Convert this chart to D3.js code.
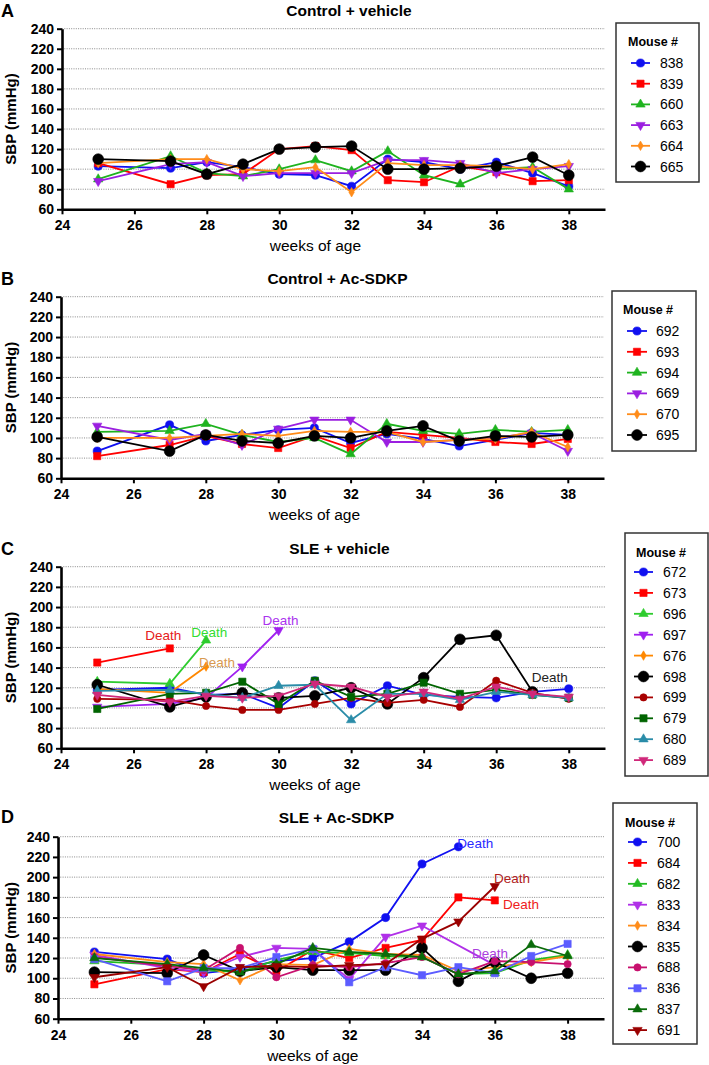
<!DOCTYPE html>
<html><head><meta charset="utf-8">
<script src="https://cdn.jsdelivr.net/npm/d3@7"></script>
<style>body{margin:0;background:#fff} text{font-family:"Liberation Sans",Arial,Helvetica,sans-serif}</style>
</head><body><svg id="c" width="709" height="1065"></svg>
<script>
// ---------- data ----------
const weeks = [25,27,28,29,30,31,32,33,34,35,36,37,38];
const yTicks = [60,80,100,120,140,160,180,200,220,240];
const xTicks = [24,26,28,30,32,34,36,38];
const gridTicks = [80,100,120,140,160,180,200,220,240];
const xDomain = [24,39];
const yDomain = [60,240];
const yLabel = "SBP (mmHg)";
const xLabel = "weeks of age";
const legendTitle = "Mouse #";

const titleA = "Control + vehicle";
const miceA = ["838","839","660","663","664","665"];
const colorsA = ["#1010f0","#ff0000","#1fb31f","#9b1fe0","#ff8c1a","#000000"];
const shapesA = ["circle","square","triangle","triangleDown","diamond","bigCircle"];
const valuesA = [
  [103,101,107,102,95,94,83,110,107,100,107,96,83],
  [106,85,94,95,120,123,119,89,87,103,97,88,89],
  [90,113,96,93,100,109,98,118,94,85,100,102,80],
  [88,105,107,93,96,96,96,109,109,106,96,100,103],
  [106,110,110,100,98,102,77,106,104,104,103,100,105],
  [110,108,95,105,120,122,123,100,100,101,103,112,94]
];

const titleB = "Control + Ac-SDKP";
const miceB = ["692","693","694","669","670","695"];
const colorsB = colorsA;
const shapesB = shapesA;
const valuesB = [
  [87,113,97,103,108,110,95,104,99,92,98,105,103],
  [82,93,102,94,90,102,90,106,103,100,96,94,99],
  [106,107,114,103,96,100,84,114,107,104,108,106,108],
  [112,98,104,93,109,118,118,96,96,98,100,105,87],
  [100,100,102,104,102,107,106,106,96,98,99,106,91],
  [101,87,103,97,95,102,100,107,112,97,102,101,103]
];

const titleC = "SLE + vehicle";
const miceC = ["672","673","696","697","676","698","699","679","680","689"];
const colorsC = ["#1010f0","#ff0000","#2ecc2e","#a020f0","#ff8800","#000000","#a80000","#006400","#2a8ca8","#d0287a"];
const shapesC = ["circle","square","triangle","triangleDown","diamond","bigCircle","smallCircle","square","triangle","triangleDown"];
const valuesC = [
  [118,120,113,114,100,127,104,122,113,111,110,116,119],
  [145,159],
  [126,124,167],
  [101,104,110,141,177],
  [119,115,141],
  [123,101,111,115,110,112,120,104,130,168,172,116],
  [109,108,102,98,98,104,110,105,108,101,127,115,109],
  [99,114,115,126,104,127,111,114,125,114,118,113,110],
  [117,118,114,110,122,123,88,114,114,108,116,113,110],
  [113,106,112,110,112,124,121,111,116,109,121,114,111]
];
const deathsC = [
  {text:"Death", color:"#e52020", week:26.82, value:172},
  {text:"Death", color:"#33dd33", week:28.09, value:175},
  {text:"Death", color:"#d89a50", week:28.3, value:145},
  {text:"Death", color:"#aa33ee", week:30.05, value:187},
  {text:"Death", color:"#222222", week:37.48, value:130}
];

const titleD = "SLE + Ac-SDKP";
const miceD = ["700","684","682","833","834","835","688","836","837","691"];
const colorsD = ["#1010f0","#ff0000","#22bb22","#b030e8","#ff8c1a","#000000","#c8106e","#5c5cff","#0a6b0a","#9a0000"];
const shapesD = ["circle","square","triangle","triangleDown","diamond","bigCircle","smallCircle","square","triangle","triangleDown"];
const valuesD = [
  [126,119,105,109,117,120,136,160,213,230],
  [94,109,106,124,107,128,120,130,138,180,177],
  [117,113,108,106,118,126,125,122,121,104,105,118,123],
  [123,110,106,121,130,129,99,141,152,null,113],
  [124,116,114,98,114,113,129,124,123,107,111,116,122],
  [106,105,123,107,111,108,108,108,130,97,116,100,105],
  [121,112,108,130,101,113,111,115,121,104,117,116,114],
  [119,97,110,110,121,129,96,111,103,111,105,122,134],
  [120,114,110,106,114,130,126,124,121,104,107,133,122],
  [101,111,92,111,112,111,113,114,139,156,191]
];
const deathsD = [
  {text:"Death", color:"#2a2aff", week:35.46, value:233},
  {text:"Death", color:"#b02020", week:36.47, value:199},
  {text:"Death", color:"#ee2020", week:36.72, value:173},
  {text:"Death", color:"#aa40dd", week:35.87, value:124}
];

// ---------- layout ----------
const panels = [
  {letter:"A", title:titleA, mice:miceA, colors:colorsA, shapes:shapesA, values:valuesA, deaths:[],
   x0:62, x1:605, yTop:28.7, yBot:209.3, letterY:17, titleX:349, titleY:16,
   lg:{x:616,y:23,w:83,h:159,tx:628,ty:46,e0:63,dy:20.7,l0:631,l1:650,t:660}},
  {letter:"B", title:titleB, mice:miceB, colors:colorsB, shapes:shapesB, values:valuesB, deaths:[],
   x0:61, x1:604, yTop:296.7, yBot:478.3, letterY:285, titleX:337.5, titleY:284,
   lg:{x:612,y:291,w:84,h:160,tx:623,ty:314,e0:331,dy:20.8,l0:627,l1:647,t:656}},
  {letter:"C", title:titleC, mice:miceC, colors:colorsC, shapes:shapesC, values:valuesC, deaths:deathsC,
   x0:61, x1:605, yTop:566.7, yBot:748.3, letterY:555, titleX:339.5, titleY:554,
   lg:{x:625,y:533,w:83,h:243,tx:636,ty:557,e0:572,dy:20.9,l0:634,l1:653,t:663}},
  {letter:"D", title:titleD, mice:miceD, colors:colorsD, shapes:shapesD, values:valuesD, deaths:deathsD,
   x0:58, x1:604, yTop:836.7, yBot:1018.7, letterY:823, titleX:336.5, titleY:823,
   lg:{x:613,y:803,w:84,h:241,tx:625,ty:827,e0:842,dy:20.9,l0:628,l1:647,t:657}}
];
const yLabelX = 15.5;

const symbolDefs = {
  circle:{type:d3.symbolCircle,size:52,rot:0},
  bigCircle:{type:d3.symbolCircle,size:92,rot:0},
  smallCircle:{type:d3.symbolCircle,size:42,rot:0},
  square:{type:d3.symbolSquare,size:52,rot:0},
  triangle:{type:d3.symbolTriangle,size:38,rot:0},
  triangleDown:{type:d3.symbolTriangle,size:38,rot:180},
  diamond:{type:d3.symbolDiamond,size:26,rot:0}
};
function marker(g, shape, color, x, y){
  const s = symbolDefs[shape];
  g.append("path").attr("d", d3.symbol().type(s.type).size(s.size)())
    .attr("transform", `translate(${x},${y}) rotate(${s.rot})`)
    .attr("fill", color).attr("stroke", color).attr("stroke-width", 0.6);
}

const svg = d3.select("#c");

panels.forEach(p => {
  const x = d3.scaleLinear().domain(xDomain).range([p.x0, p.x1]);
  const y = d3.scaleLinear().domain(yDomain).range([p.yBot, p.yTop]);
  const g = svg.append("g");

  // grid
  g.selectAll(".grid").data(gridTicks).join("line")
    .attr("x1", p.x0).attr("x2", p.x1)
    .attr("y1", d => y(d)).attr("y2", d => y(d))
    .attr("stroke", "#8a8a8a").attr("stroke-width", 1).attr("stroke-dasharray", "1,1.3");

  // axes
  const ax = g.append("g").attr("transform", `translate(${p.x0},0)`)
    .call(d3.axisLeft(y).tickValues(yTicks).tickSize(5).tickSizeOuter(0).tickPadding(3));
  const bx = g.append("g").attr("transform", `translate(0,${p.yBot})`)
    .call(d3.axisBottom(x).tickValues(xTicks).tickSize(5).tickSizeOuter(0).tickPadding(4));
  [ax, bx].forEach(a => {
    a.select(".domain").attr("stroke", "#000").attr("stroke-width", 2.6);
    a.selectAll(".tick line").attr("stroke", "#000").attr("stroke-width", 2);
    a.selectAll(".tick text").attr("fill", "#000").attr("font-size", 14).attr("font-weight", "bold")
      .attr("font-family", '"Liberation Sans",Arial,sans-serif');
  });
  bx.selectAll(".tick text").attr("dy", "0.85em");

  // labels
  g.append("text").attr("x", 1).attr("y", p.letterY).text(p.letter)
    .attr("font-size", 18).attr("font-weight", "bold");
  g.append("text").attr("x", p.titleX).attr("y", p.titleY).attr("text-anchor", "middle")
    .attr("font-size", 15.5).attr("font-weight", "bold").text(p.title);
  g.append("text").attr("transform", `translate(${yLabelX},${(p.yTop + p.yBot) / 2}) rotate(-90)`)
    .attr("text-anchor", "middle").attr("font-size", 15).attr("font-weight", "bold").text(yLabel);
  g.append("text").attr("x", (x(24) + x(38)) / 2).attr("y", p.yBot + 42)
    .attr("text-anchor", "middle").attr("font-size", 15.5).text(xLabel);

  // series
  const line = d3.line().x(d => x(d.w)).y(d => y(d.v));
  p.values.forEach((vals, i) => {
    const pts = vals.map((v, j) => ({w: weeks[j], v})).filter(d => d.v != null);
    g.append("path").datum(pts).attr("d", line).attr("fill", "none")
      .attr("stroke", p.colors[i]).attr("stroke-width", 1.8);
    pts.forEach(d => marker(g, p.shapes[i], p.colors[i], x(d.w), y(d.v)));
  });

  // death notes
  p.deaths.forEach(d => {
    g.append("text").attr("x", x(d.week)).attr("y", y(d.value)).attr("text-anchor", "middle")
      .attr("dominant-baseline", "central").attr("font-size", 13.5).attr("fill", d.color).text(d.text);
  });

  // legend
  const L = p.lg;
  g.append("rect").attr("x", L.x).attr("y", L.y).attr("width", L.w).attr("height", L.h)
    .attr("fill", "#fff").attr("stroke", "#333").attr("stroke-width", 1.5);
  g.append("text").attr("x", L.tx).attr("y", L.ty).attr("font-size", 12.5).attr("font-weight", "bold").text(legendTitle);
  p.mice.forEach((m, i) => {
    const yy = L.e0 + i * L.dy;
    g.append("line").attr("x1", L.l0).attr("x2", L.l1).attr("y1", yy).attr("y2", yy)
      .attr("stroke", p.colors[i]).attr("stroke-width", 1.8);
    marker(g, p.shapes[i], p.colors[i], (L.l0 + L.l1) / 2, yy);
    g.append("text").attr("x", L.t).attr("y", yy).attr("dominant-baseline", "central")
      .attr("font-size", 14).text(m);
  });
});
</script></body></html>
